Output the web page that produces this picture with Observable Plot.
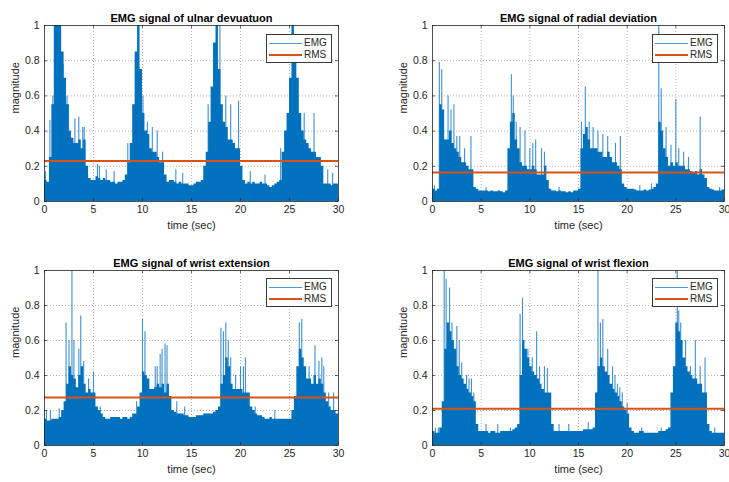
<!DOCTYPE html>
<html><head><meta charset="utf-8">
<script src="https://cdn.jsdelivr.net/npm/d3@7"></script>
<script src="https://cdn.jsdelivr.net/npm/@observablehq/plot@0.6"></script>
<style>
body{margin:0;background:#fff;overflow:hidden;}
#fig{position:relative;width:729px;height:482px;overflow:hidden;font-family:"Liberation Sans",Arial,sans-serif;}
.panel{position:absolute;}
.panel svg{overflow:visible;}
.legend{position:absolute;background:#fff;border:1px solid #3a3a3a;box-sizing:border-box;width:66px;height:29px;font-size:10px;color:#262626;}
.legend .row{position:absolute;left:0;right:0;height:12px;}
.legend .ln{position:absolute;left:2px;width:33px;}
.legend .tx{position:absolute;left:37px;line-height:12px;top:0;}
</style></head>
<body><div id="fig"></div>
<script>
// ---- data ----
const titles = ["EMG signal of ulnar devuatuon","EMG signal of radial deviation","EMG signal of wrist extension","EMG signal of wrist flexion"];
const xTicks = [0,5,10,15,20,25,30];
const yTicks = [0,0.2,0.4,0.6,0.8,1];
const rmsValues = [0.23, 0.165, 0.275, 0.21];

// EMG envelope, one value per 0.25 s (t = 0 … 30)
const ulnarEnv = [
0.12,0.11,0.25,0.55, 1.0,1.0,1.0,0.85, 0.7,0.55,0.4,0.36, 0.33,0.33,0.35,0.3, 0.35,0.2,0.13,0.12,
0.12,0.14,0.13,0.12, 0.13,0.12,0.12,0.11, 0.11,0.1,0.11,0.11, 0.12,0.15,0.22,0.33, 0.55,0.85,1.0,0.75,
0.5,0.4,0.38,0.3, 0.28,0.28,0.25,0.22, 0.22,0.15,0.11,0.12, 0.12,0.11,0.1,0.11, 0.1,0.1,0.1,0.09,
0.09,0.1,0.11,0.11, 0.12,0.2,0.28,0.45, 0.65,0.9,1.0,0.75, 0.55,0.45,0.42,0.35, 0.35,0.33,0.3,0.3,
0.2,0.12,0.1,0.11, 0.1,0.11,0.1,0.1, 0.11,0.1,0.1,0.09, 0.08,0.09,0.1,0.11, 0.12,0.28,0.4,0.5,
0.7,1.0,0.9,0.7, 0.5,0.4,0.35,0.33, 0.3,0.28,0.28,0.25, 0.25,0.2,0.1,0.1, 0.1,0.09,0.1,0.1, 0.09];
const radialEnv = [
0.07,0.06,0.07,0.55, 0.52,0.35,0.35,0.4, 0.33,0.3,0.28,0.25, 0.22,0.22,0.2,0.18, 0.18,0.08,0.07,0.06,
0.06,0.06,0.06,0.055, 0.06,0.055,0.055,0.06, 0.055,0.05,0.06,0.3, 0.45,0.5,0.35,0.3, 0.22,0.2,0.2,0.18,
0.18,0.2,0.18,0.15, 0.15,0.15,0.2,0.12, 0.07,0.06,0.06,0.055, 0.06,0.055,0.055,0.05, 0.055,0.05,0.06,0.06,
0.07,0.3,0.38,0.42, 0.35,0.3,0.3,0.3, 0.28,0.28,0.25,0.25, 0.28,0.25,0.22,0.22, 0.2,0.18,0.1,0.08,
0.07,0.07,0.07,0.065, 0.06,0.06,0.06,0.065, 0.06,0.065,0.07,0.08, 0.1,0.45,0.4,0.3, 0.25,0.2,0.22,0.2,
0.22,0.2,0.2,0.2, 0.18,0.18,0.17,0.16, 0.17,0.15,0.18,0.15, 0.13,0.08,0.07,0.065, 0.06,0.06,0.06,0.065, 0.07];
const extensionEnv = [
0.15,0.14,0.14,0.15, 0.15,0.15,0.16,0.2, 0.25,0.35,0.45,0.4, 0.38,0.33,0.4,0.45, 0.35,0.3,0.32,0.3,
0.3,0.22,0.2,0.18, 0.16,0.15,0.15,0.16, 0.16,0.16,0.16,0.15, 0.16,0.16,0.15,0.16, 0.18,0.18,0.22,0.3,
0.42,0.4,0.38,0.32, 0.32,0.33,0.35,0.33, 0.35,0.3,0.35,0.28, 0.2,0.19,0.18,0.18, 0.18,0.17,0.17,0.16,
0.16,0.16,0.17,0.17, 0.17,0.18,0.18,0.18, 0.18,0.19,0.2,0.22, 0.35,0.4,0.5,0.45, 0.35,0.32,0.32,0.32,
0.32,0.3,0.3,0.3, 0.22,0.2,0.18,0.17, 0.17,0.16,0.15,0.15, 0.16,0.15,0.15,0.15, 0.15,0.15,0.15,0.15,
0.15,0.2,0.28,0.45, 0.55,0.5,0.45,0.38, 0.38,0.35,0.4,0.35, 0.38,0.35,0.3,0.25, 0.22,0.2,0.2,0.18, 0.18];
const flexionEnv = [
0.08,0.07,0.07,0.1, 0.25,0.55,0.7,0.65, 0.6,0.55,0.45,0.4, 0.38,0.35,0.32,0.3, 0.28,0.25,0.12,0.08,
0.08,0.08,0.08,0.07, 0.08,0.08,0.07,0.07, 0.08,0.08,0.08,0.08, 0.08,0.09,0.1,0.12, 0.4,0.6,0.55,0.5,
0.45,0.42,0.4,0.38, 0.35,0.32,0.3,0.3, 0.3,0.12,0.08,0.08, 0.08,0.08,0.08,0.08, 0.08,0.08,0.08,0.08,
0.08,0.08,0.09,0.09, 0.09,0.09,0.1,0.3, 0.45,0.5,0.45,0.42, 0.4,0.35,0.32,0.3, 0.28,0.25,0.22,0.2,
0.18,0.1,0.08,0.07, 0.07,0.08,0.08,0.07, 0.07,0.07,0.07,0.07, 0.07,0.08,0.08,0.08, 0.09,0.1,0.3,0.45,
0.7,0.65,0.6,0.5, 0.45,0.42,0.4,0.38, 0.38,0.35,0.35,0.3, 0.3,0.12,0.08,0.07, 0.07,0.07,0.07,0.07, 0.07];

// individual spikes (time, magnitude)
const ulnarSpikeT = [0.1,0.55,0.85,1.9,2.3,2.45,3.1,3.5,3.9,4.05,5.4,5.6,6.3,7.1,8.5,10.05,10.5,11.0,11.5,12.05,13.4,14.1,16.7,17.9,18.5,19.0,19.8,21.0,22.5,24.1,26.5,27.5,28.9,29.4];
const ulnarSpikeV = [0.17,0.46,0.6,0.78,0.6,0.55,0.47,0.48,0.42,0.42,0.21,0.2,0.18,0.17,0.33,0.6,0.45,0.42,0.4,0.28,0.18,0.16,0.55,1.0,0.6,0.55,0.57,0.17,0.15,0.3,0.5,0.5,0.18,0.16];
const radialSpikeT = [0.2,0.7,0.95,1.6,1.9,2.2,2.5,2.8,3.3,3.95,5.5,8.1,8.3,8.6,9.0,9.5,10.0,10.3,10.6,11.2,11.5,13.0,15.3,15.7,16.1,16.5,17.0,17.5,18.0,18.8,19.3,21.3,22.5,23.25,23.5,24.0,24.5,25.0,25.3,25.8,26.3,27.5,29.5];
const radialSpikeV = [0.09,0.79,0.75,0.6,0.52,0.55,0.37,0.37,0.3,0.37,0.08,0.72,0.6,0.45,0.42,0.4,0.3,0.33,0.35,0.3,0.28,0.08,0.45,0.65,0.45,0.42,0.4,0.38,0.37,0.33,0.37,0.09,0.1,1.0,0.64,0.42,0.32,0.58,0.3,0.28,0.25,0.48,0.08];
const extensionSpikeT = [0.2,0.6,1.5,2.2,2.5,2.8,3.0,3.5,3.7,4.0,4.5,5.0,5.7,9.4,10.0,10.25,11.3,11.5,11.8,12.0,12.3,12.5,13.5,14.3,18.0,18.25,18.5,18.75,19.0,19.5,20.0,20.3,20.5,21.5,23.5,26.0,26.25,27.0,27.6,28.0,28.3,28.5,29.0,29.5];
const extensionSpikeV = [0.2,0.2,0.21,0.7,0.6,1.0,0.6,0.55,0.74,0.48,0.38,0.42,0.22,0.25,0.72,0.65,0.45,0.45,0.52,0.55,0.58,0.57,0.25,0.22,0.67,0.65,0.7,0.6,0.5,0.4,0.45,0.45,0.5,0.22,0.2,0.7,0.72,0.45,0.57,0.48,0.5,0.45,0.3,0.3];
const flexionSpikeT = [0.3,0.6,1.2,1.4,1.75,2.0,2.5,2.75,3.0,3.5,3.75,4.0,4.25,5.5,6.7,8.0,9.0,9.25,9.8,10.25,10.7,11.0,11.5,11.8,13.0,14.0,16.0,17.0,17.25,17.5,18.0,18.5,18.75,19.0,19.25,19.5,20.0,21.5,23.5,25.15,25.3,25.5,26.0,26.5,27.0,27.5,28.0,29.0];
const flexionSpikeV = [0.1,0.1,1.0,0.95,0.9,0.7,0.68,0.6,0.47,0.4,0.38,0.38,0.3,0.12,0.12,0.1,0.75,0.84,0.55,0.5,0.65,0.45,0.45,0.44,0.12,0.12,0.13,1.0,0.7,0.72,0.55,0.45,0.4,0.35,0.33,0.3,0.24,0.1,0.1,1.0,0.77,0.7,0.6,0.45,0.6,0.45,0.5,0.1];

const envs = [ulnarEnv, radialEnv, extensionEnv, flexionEnv];
const spikeTs = [ulnarSpikeT, radialSpikeT, extensionSpikeT, flexionSpikeT];
const spikeVs = [ulnarSpikeV, radialSpikeV, extensionSpikeV, flexionSpikeV];

// ---- layout ----
const layouts = [
  {left:0,   top:0,   width:365, height:241, ml:44, mr:27, mt:25, mb:40, lx:266, ly:34},
  {left:365, top:0,   width:364, height:241, ml:67, mr:5,  mt:25, mb:40, lx:652, ly:34},
  {left:0,   top:241, width:365, height:241, ml:44, mr:27, mt:29, mb:37, lx:266, ly:278},
  {left:365, top:241, width:364, height:241, ml:67, mr:5,  mt:29, mb:37, lx:652, ly:278}
];
const EMG = "#0072BD", RMSC = "#D95319", INK = "#262626";
const fig = document.getElementById("fig");

layouts.forEach((L, k) => {
  const env = envs[k];
  const series = env.map((v, i) => ({t: i * 0.25, v}));
  const spikes = spikeTs[k].map((t, i) => ({t, v: spikeVs[k][i]}));
  const pw = L.width - L.ml - L.mr, ph = L.height - L.mt - L.mb;
  const chart = Plot.plot({
    width: L.width, height: L.height,
    marginLeft: L.ml, marginRight: L.mr, marginTop: L.mt, marginBottom: L.mb,
    style: {fontFamily: '"Liberation Sans", Arial, sans-serif', background: "transparent", overflow: "visible"},
    x: {domain: [0, 30]},
    y: {domain: [0, 1]},
    marks: [
      Plot.gridX(xTicks.slice(1, -1), {stroke: "#777", strokeOpacity: 0.7, strokeDasharray: "1,2", strokeWidth: 0.8}),
      Plot.gridY(yTicks.slice(1, -1), {stroke: "#777", strokeOpacity: 0.7, strokeDasharray: "1,2", strokeWidth: 0.8}),
      Plot.ruleX(spikes, {x: "t", y1: 0, y2: "v", stroke: "#3d8fd1", strokeWidth: 1.1, clip: true}),
      Plot.areaY(series, {x: "t", y: "v", curve: "step-after", fill: EMG, clip: true}),
      Plot.ruleY([rmsValues[k]], {stroke: RMSC, strokeWidth: 2}),
      Plot.frame({stroke: INK, strokeWidth: 0.8}),
      Plot.ruleX(xTicks, {stroke: INK, strokeWidth: 0.7, insetTop: ph - 3}),
      Plot.ruleX(xTicks, {stroke: INK, strokeWidth: 0.7, insetBottom: ph - 3}),
      Plot.ruleY(yTicks, {stroke: INK, strokeWidth: 0.7, insetRight: pw - 3}),
      Plot.ruleY(yTicks, {stroke: INK, strokeWidth: 0.7, insetLeft: pw - 3}),
      Plot.axisX(xTicks, {tickSize: 0, tickPadding: 4, fontSize: 10.5, fill: INK, label: null, tickFormat: d => String(d)}),
      Plot.axisY(yTicks, {tickSize: 0, tickPadding: 5, fontSize: 10.5, fill: INK, label: null, tickFormat: d => String(d)}),
      Plot.text([titles[k]], {frameAnchor: "top", dy: -11, fontWeight: "bold", fontSize: 11, fill: "#000"}),
      Plot.text(["time (sec)"], {frameAnchor: "bottom", dy: 27.5, fontSize: 11, fill: INK}),
      Plot.text(["magnitude"], {frameAnchor: "left", dx: -29, rotate: -90, fontSize: 11, fill: INK})
    ]
  });
  const div = document.createElement("div");
  div.className = "panel";
  div.style.left = L.left + "px";
  div.style.top = L.top + "px";
  div.appendChild(chart);
  fig.appendChild(div);

  const lg = document.createElement("div");
  lg.className = "legend";
  lg.style.left = L.lx + "px";
  lg.style.top = L.ly + "px";
  lg.innerHTML =
    `<div class="row" style="top:2px"><div class="ln" style="top:6px;border-top:1px solid #4b9ad6"></div><div class="tx">EMG</div></div>` +
    `<div class="row" style="top:14px"><div class="ln" style="top:5px;border-top:2px solid ${RMSC}"></div><div class="tx">RMS</div></div>`;
  fig.appendChild(lg);
});
</script>
</body></html>
